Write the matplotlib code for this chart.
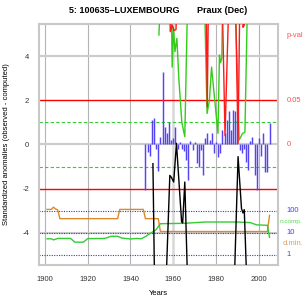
import matplotlib
matplotlib.use("Agg")
import matplotlib.pyplot as plt
import matplotlib.transforms as mtransforms
import numpy as np

plt.rcParams['font.family'] = ['Liberation Sans', 'DejaVu Sans']

# standardized anomalies, one per year
anom_years = list(range(1947, 2006))
anom_vals = [-2.05, -0.33, -0.5, 1.1, 1.2, -0.2, -1.2, 0.35, 3.3, 0.8,
             0.5, 1.0, 0.2, 0.3, 0.8, -0.2, 0.1, -0.2, -0.3, -0.7,
             -1.6, 0.15, -0.25, 0.1, -0.85, -1.0, -0.25, -1.4, 0.3, 0.5,
             0.2, 0.5, -0.4, 0.1, -0.55, -0.4, 0.65, 0.5, 1.1, 1.5,
             0.65, 1.55, 1.5, 1.1, -0.25, -0.4, -0.2, -0.8, -1.15, 0.15,
             0.35, -1.4, -2.05, 0.3, -0.5, 0.5, -1.25, -1.25, 0.95]

# test statistic (green, upper part), values above the top are off-scale
stat_years = [1953.3, 1954.6, 1958.9, 1959.5, 1960.1, 1960.8, 1961.7, 1962.6,
              1964.0, 1965.4, 1967.0, 1974.3, 1975.8, 1976.9, 1977.9, 1980.9,
              1981.6, 1982.1, 1982.7, 1983.3, 1988.6, 1990.8, 1992.4, 1993.5,
              1995.0]
stat_vals = [4.95, 8, 8, 3.5, 5.3, 4.2, 4.8, 3.0,
             1.0, 0.35, 8, 8, 1.4, 2.0, 3.5, 0.5,
             4.05, 3.7, 3.9, 8, 8, 0.2, 0.5, 0.55,
             8]

# p-values scaled (red)
pval_years = [1958.2, 1958.6, 1959.5, 1960.3, 1961.3, 1961.8, 1975.2, 1975.9,
              1976.6, 1982.6, 1984.2, 1986.4, 1988.8, 1990.3, 1991.3, 1992.0,
              1992.6, 1993.2, 1993.6]
pval_vals = [8, 5.1, 5.4, 5.15, 5.2, 8, 8, 1.7,
             8, 8, 0.4, 8, 8, 0.05, 8, 8,
             5.3, 5.4, 8]

# black line
blk_years = [1950.5, 1951.5, 1956.0, 1958.4, 1959.2, 1960.2, 1961.5, 1963.9,
             1964.4, 1965.4, 1967.2, 1988.0, 1990.3, 1991.9, 1992.6, 1993.2,
             1995.0]
blk_vals = [-0.87, -8, -8, -1.4, -1.5, -1.7, 0.05, -3.5,
            -3.55, -1.7, -8, -8, -0.55, -2.9, -3.1, -2.95,
            -8]

# minimum distance (km) and number of comparison stations
dmin_years = [1901, 1903, 1904, 1905, 1906, 1907, 1934, 1935, 1946, 1947,
              1953, 1954, 2004, 2005]
dmin_km = [115, 115, 145, 120, 110, 44, 44, 115, 115, 44,
           44, 11.5, 11.5, 62]
ncomp_years = [1901, 1903, 1904, 1906, 1912, 1914, 1918, 1920, 1928, 1931,
               1934, 1936, 1940, 1943, 1945, 1947, 1950, 1952, 1954, 1965,
               1975, 1990, 1996, 1999, 2004, 2005]
ncomp_n = [5.4, 5.4, 4.8, 5.6, 5.6, 3.8, 3.8, 5.5, 5.6, 7.0,
           7.0, 5.8, 5.3, 5.6, 5.4, 6.8, 10.5, 14, 26, 27,
           31, 31, 29, 23, 22, 6.3]

fig = plt.figure(figsize=(3.04, 2.96), dpi=100)
ax = fig.add_axes([0.128, 0.105, 0.786, 0.814])
ax.set_xlim(1897.2, 2008.9)
ax.set_ylim(-5.45, 5.45)

# grid
for yr in [1900, 1920, 1940, 1980, 2000]:
    ax.axvline(yr, color='#b4b4b4', lw=0.8, zorder=0)
ax.axvline(1960, color='#d8d8d8', lw=1.8, zorder=0)
for yv in [4, 0, -4]:
    ax.axhline(yv, color='#cccccc', lw=1.5, zorder=0)

ax.axhline(2, color='red', lw=1.0, zorder=1)
ax.axhline(-2, color='red', lw=1.0, zorder=1)
ax.axhline(1, color='#33cc33', lw=0.8, ls=(0, (3, 2)), zorder=1)
ax.axhline(-1, color='#33cc33', lw=0.8, ls=(0, (3, 2)), zorder=1)
for yv in [-3, -4, -5]:
    ax.axhline(yv, color='#3333ff', lw=0.8, ls=(0, (1, 1.2)), zorder=1)

ax.vlines(anom_years, 0, anom_vals, color='#5444f2', lw=1.05, zorder=2)

ax.plot(dmin_years, np.log10(dmin_km) - 5, color='#d98a2b', lw=1.0, zorder=3)
ax.plot(ncomp_years, np.log10(ncomp_n) - 5, color='#33cc33', lw=1.0, zorder=3)
ax.plot(stat_years, stat_vals, color='#33cc1a', lw=1.0, zorder=3)
ax.plot(pval_years, pval_vals, color='#ff1a1a', lw=1.0, zorder=3)
ax.plot(blk_years, blk_vals, color='black', lw=1.0, zorder=4)

for s in ax.spines.values():
    s.set_color('#c8c8c8')
    s.set_linewidth(1.5)

ax.set_xticks([1900, 1920, 1940, 1960, 1980, 2000])
ax.set_yticks([4, 2, 0, -2, -4])
ax.set_yticklabels(['4', '2', '0', '-2', '-4'])
ax.tick_params(length=0, labelsize=5.5, colors='#333333', pad=7)
ax.tick_params(axis='x', pad=8)

ax.set_xlabel('Years', fontsize=5.5, labelpad=5)
ax.set_ylabel('Standardized anomalies (observed - computed)', fontsize=5.5, labelpad=9)
ax.set_title('5: 100635–LUXEMBOURG       Praux (Dec)', fontsize=6.5,
             fontweight='bold', pad=8)

tr = mtransforms.blended_transform_factory(ax.transAxes, ax.transData)
right_labels = [
    (1.036, 4.95, 'p-val', '#ff5050', 5.5),
    (1.038, 2.0, '0.05', '#ff5050', 5.5),
    (1.038, 0.0, '0', '#ff5050', 5.5),
    (1.036, -3.0, '100', '#4040ff', 5.5),
    (1.008, -3.5, 'n.comp.', '#55dd55', 4.6),
    (1.038, -4.0, '10', '#4040ff', 5.5),
    (1.02, -4.5, 'd.min.', '#e0a060', 5.5),
    (1.038, -5.0, '1', '#4040ff', 5.5),
]
for x, y, t, c, fs in right_labels:
    ax.text(x, y, t, transform=tr, color=c, fontsize=fs,
            ha='left', va='center', clip_on=False)

fig.savefig('out.png', dpi=100)
